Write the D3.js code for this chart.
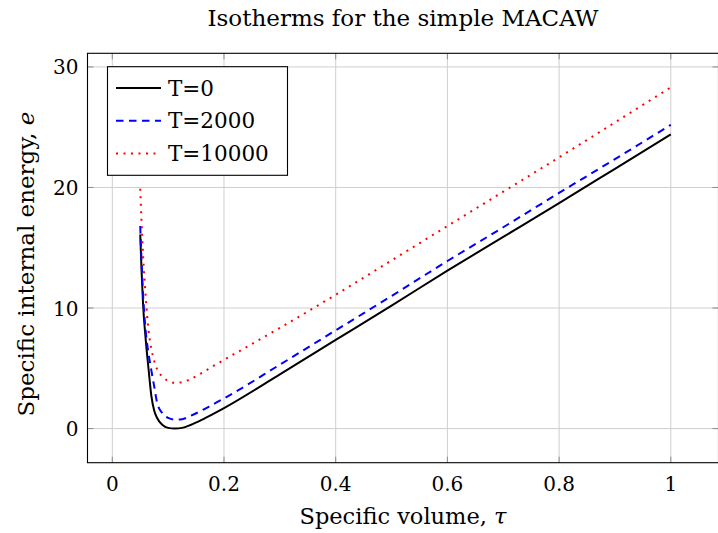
<!DOCTYPE html>
<html>
<head>
<meta charset="utf-8">
<script src="https://cdn.jsdelivr.net/npm/d3@7"></script>
<style>
  body { margin: 0; background: #fff; }
  svg text { font-family: "DejaVu Serif", serif; fill: #000; }
</style>
</head>
<body>
<svg id="chart" width="718" height="533"></svg>
<script>
// values
const tau = [0.05, 0.0525, 0.055, 0.06, 0.065, 0.07, 0.075, 0.08, 0.09, 0.1, 0.112, 0.125,
  0.14, 0.16, 0.18, 0.2, 0.3, 0.4, 0.5, 0.6, 0.7, 0.8, 0.9, 1.0];
const eT0 = [16.1, 13.0, 10.4, 7.3, 4.9, 2.7, 1.5, 0.9, 0.3, 0.06, 0, 0.06,
  0.3, 0.72, 1.2, 1.7, 4.5, 7.35, 10.2, 13.1, 15.9, 18.7, 21.55, 24.4];
const eT2000 = [16.8, 13.8, 11.2, 8.0, 6.2, 4.8, 3.5, 2.2, 1.25, 0.88, 0.74, 0.78,
  1.05, 1.5, 2.0, 2.5, 5.3, 8.15, 11.0, 13.9, 16.7, 19.55, 22.35, 25.2];
const eT10000 = [19.9, 17.0, 14.5, 10.8, 8.1, 6.6, 5.6, 4.95, 4.3, 3.95, 3.8, 3.85,
  4.1, 4.6, 5.17, 5.7, 8.35, 11.1, 13.95, 16.8, 19.65, 22.5, 25.4, 28.3];
const seriesNames = ['T=0', 'T=2000', 'T=10000'];
const xTicks = [0, 0.2, 0.4, 0.6, 0.8, 1];
const yTicks = [0, 10, 20, 30];

const svg = d3.select('#chart');
const pLeft = 87.5, pRight = 718.5, pTop = 53.3, pBottom = 462.7;

const x = d3.scaleLinear().domain([-0.0444, 1.0854]).range([pLeft, pRight]);
const y = d3.scaleLinear().domain([-2.83, 31.13]).range([pBottom, pTop]);

// grid
svg.append('g').selectAll('line')
  .data(xTicks).join('line')
  .attr('x1', d => x(d)).attr('x2', d => x(d))
  .attr('y1', pTop).attr('y2', pBottom)
  .attr('stroke', '#cfcfcf').attr('stroke-width', 1);
svg.append('g').selectAll('line')
  .data(yTicks).join('line')
  .attr('x1', pLeft).attr('x2', pRight)
  .attr('y1', d => y(d)).attr('y2', d => y(d))
  .attr('stroke', '#cfcfcf').attr('stroke-width', 1);

// inward ticks on all four sides
const tk = 6;
const tickG = svg.append('g').attr('stroke', '#8c8c8c').attr('stroke-width', 1);
xTicks.forEach(d => {
  tickG.append('line').attr('x1', x(d)).attr('x2', x(d)).attr('y1', pBottom).attr('y2', pBottom - tk);
  tickG.append('line').attr('x1', x(d)).attr('x2', x(d)).attr('y1', pTop).attr('y2', pTop + tk);
});
yTicks.forEach(d => {
  tickG.append('line').attr('x1', pLeft).attr('x2', pLeft + tk).attr('y1', y(d)).attr('y2', y(d));
  tickG.append('line').attr('x1', pRight - tk).attr('x2', pRight).attr('y1', y(d)).attr('y2', y(d));
});

// curves
const rows = tau.map((t, i) => ({ t, e: [eT0[i], eT2000[i], eT10000[i]] }));
const styles = [
  { color: '#000', dash: null },
  { color: '#0000ff', dash: '7.5,5.5' },
  { color: '#ff0000', dash: '2,5.5' },
];
seriesNames.forEach((name, k) => {
  const line = d3.line()
    .x(d => x(d.t))
    .y(d => y(d.e[k]))
    .curve(d3.curveMonotoneX);
  svg.append('path')
    .datum(rows)
    .attr('d', line)
    .attr('fill', 'none')
    .attr('stroke', styles[k].color)
    .attr('stroke-width', 2)
    .attr('stroke-dasharray', styles[k].dash);
});

// frame
svg.append('rect')
  .attr('x', pLeft).attr('y', pTop)
  .attr('width', pRight - pLeft).attr('height', pBottom - pTop)
  .attr('fill', 'none').attr('stroke', '#000').attr('stroke-width', 1.1);

// tick labels
svg.append('g').selectAll('text')
  .data(xTicks).join('text')
  .attr('x', d => x(d)).attr('y', 491)
  .attr('text-anchor', 'middle')
  .attr('font-size', 20)
  .text(d => d3.format('~g')(d));
svg.append('g').selectAll('text')
  .data(yTicks).join('text')
  .attr('x', 78.5).attr('y', d => y(d) + 7.5)
  .attr('text-anchor', 'end')
  .attr('font-size', 20)
  .text(d => d);

// axis labels and title
svg.append('text')
  .attr('x', (pLeft + pRight) / 2).attr('y', 26)
  .attr('text-anchor', 'middle').attr('font-size', 23)
  .text('Isotherms for the simple MACAW');

const xl = svg.append('text')
  .attr('x', (pLeft + pRight) / 2).attr('y', 524)
  .attr('text-anchor', 'middle').attr('font-size', 22.5);
xl.append('tspan').text('Specific volume, ');
xl.append('tspan').attr('font-style', 'italic').text('τ');

const yl = svg.append('text')
  .attr('transform', `translate(34,264) rotate(-90)`)
  .attr('text-anchor', 'middle').attr('font-size', 23);
yl.append('tspan').text('Specific internal energy, ');
yl.append('tspan').attr('font-style', 'italic').text('e');

// legend
const lg = svg.append('g');
lg.append('rect')
  .attr('x', 107.5).attr('y', 66.7)
  .attr('width', 180).attr('height', 108.6)
  .attr('fill', '#fff').attr('stroke', '#000').attr('stroke-width', 1.1);
seriesNames.forEach((name, k) => {
  const ly = 88 + k * 32.7;
  lg.append('line')
    .attr('x1', 116).attr('x2', 161)
    .attr('y1', ly).attr('y2', ly)
    .attr('stroke', styles[k].color)
    .attr('stroke-width', 2)
    .attr('stroke-dasharray', styles[k].dash);
  lg.append('text')
    .attr('x', 168).attr('y', ly + 7.5)
    .attr('font-size', 21.5)
    .text(name);
});
</script>
</body>
</html>
